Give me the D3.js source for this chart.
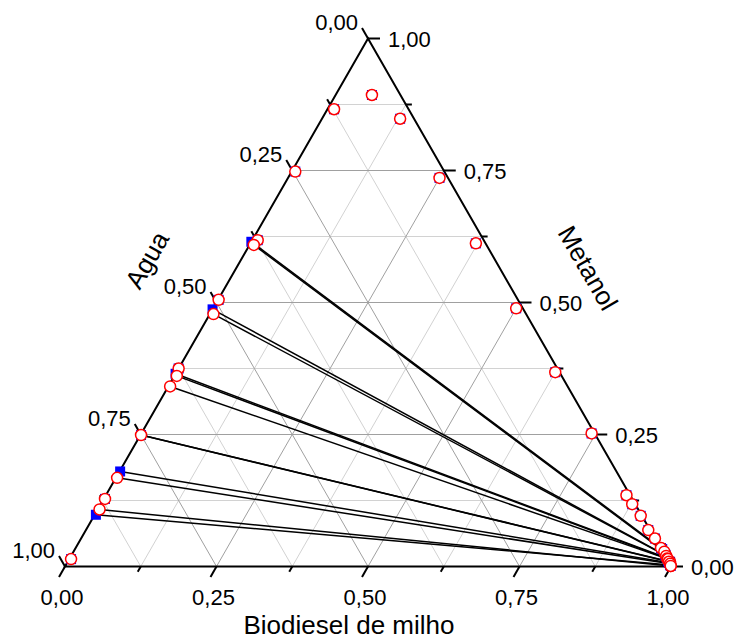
<!DOCTYPE html>
<html>
<head>
<meta charset="utf-8">
<title>Biodiesel de milho + Metanol + Agua</title>
<script src="https://d3js.org/d3.v7.min.js"></script>
<style>
    body { margin: 0; background: #fff; }
    text { font-family: "Liberation Sans", Arial, sans-serif; fill: #000; }
    .tick-label { font-size: 22px; }
    .axis-title { font-size: 26px; }
    .edge { stroke: #000; stroke-width: 2; fill: none; }
    .tick { stroke: #000; stroke-width: 2; }
    .grid-major { stroke: #a0a0a0; stroke-width: 1; }
    .grid-minor { stroke: #d2d2d2; stroke-width: 1; }
    .tie { stroke: #000; stroke-width: 1.5; }
    .sq { fill: #0000ff; }
    .circ { fill: #fff; stroke: #ff0000; stroke-width: 1.5; }
</style>
</head>
<body>
<div id="chart"></div>
<script>
    // ticks
    const majorTicks = [0, 0.25, 0.5, 0.75, 1];
    const tickLabels = ["0,00", "0,25", "0,50", "0,75", "1,00"];
    const minorTicks = [0.125, 0.375, 0.625, 0.875];

    // binodal curve (fração mássica): biodiesel, metanol
    const binodalBio = [0.003, 0.002, 0.000, 0.001, 0.009, 0.006, 0.011, 0.060, 0.129, 0.250, 0.372,
                        0.500, 0.625, 0.743, 0.859, 0.877, 0.902, 0.928, 0.947, 0.966, 0.980, 0.994, 0.999];
    const binodalMet = [0.014, 0.128, 0.375, 0.505, 0.618, 0.748, 0.866, 0.893, 0.848, 0.736, 0.612,
                        0.489, 0.368, 0.252, 0.135, 0.118, 0.096, 0.069, 0.053, 0.035, 0.022, 0.009, 0.001];

    // tie lines experimentais (quadrados azuis): fase aquosa / fase biodiesel
    const expAqBio  = [0.000, 0.000, 0.000, 0.001, 0.001, 0.002];
    const expAqMet  = [0.615, 0.487, 0.365, 0.249, 0.180, 0.098];
    const expOrgBio = [0.969, 0.979, 0.985, 0.990, 0.993, 0.997];
    const expOrgMet = [0.033, 0.022, 0.016, 0.010, 0.007, 0.003];

    // tie lines calculadas (círculos vermelhos)
    const calAqBio  = [0.007, 0.006, 0.004, 0.003, 0.001, 0.002, 0.003];
    const calAqMet  = [0.609, 0.478, 0.361, 0.341, 0.249, 0.168, 0.108];
    const calOrgBio = [0.975, 0.982, 0.986, 0.988, 0.992, 0.996, 0.999];
    const calOrgMet = [0.028, 0.020, 0.015, 0.014, 0.009, 0.005, 0.001];

    const W = 740, H = 644;
    const svg = d3.select("#chart").append("svg")
        .attr("width", W)
        .attr("height", H);

    // escalas: x = biodiesel + metanol/2, y = metanol
    const x = d3.scaleLinear().domain([0, 1]).range([65, 671]);
    const y = d3.scaleLinear().domain([0, 1]).range([566.5, 38.5]);
    const pt = (b, m) => [x(b + m / 2), y(m)];

    // grade
    const gridVals = majorTicks.slice(1, 4).concat(minorTicks);
    const grid = svg.append("g");
    gridVals.forEach(v => {
        const cls = (v * 4) % 1 === 0 ? "grid-major" : "grid-minor";
        const segs = [
            [pt(0, v), pt(1 - v, v)],          // metanol constante
            [pt(v, 0), pt(v, 1 - v)],          // biodiesel constante
            [pt(1 - v, 0), pt(0, 1 - v)]       // agua constante
        ];
        segs.forEach(s => {
            grid.append("line")
                .attr("class", cls)
                .attr("x1", s[0][0]).attr("y1", s[0][1])
                .attr("x2", s[1][0]).attr("y2", s[1][1]);
        });
    });
    // linhas maiores por cima das menores
    grid.selectAll(".grid-major").raise();

    // tie lines
    const ties = svg.append("g");
    expAqBio.forEach((b, i) => {
        const a = pt(b, expAqMet[i]), o = pt(expOrgBio[i], expOrgMet[i]);
        ties.append("line").attr("class", "tie")
            .attr("x1", a[0]).attr("y1", a[1]).attr("x2", o[0]).attr("y2", o[1]);
    });
    calAqBio.forEach((b, i) => {
        const a = pt(b, calAqMet[i]), o = pt(calOrgBio[i], calOrgMet[i]);
        ties.append("line").attr("class", "tie")
            .attr("x1", a[0]).attr("y1", a[1]).attr("x2", o[0]).attr("y2", o[1]);
    });

    // triângulo
    svg.append("path")
        .attr("class", "edge")
        .attr("d", d3.line()([pt(0, 0), pt(1, 0), pt(0, 1), pt(0, 0)]) + "Z");

    // ticks e rótulos
    const axes = svg.append("g");
    const c60 = 0.5, s60 = Math.sqrt(3) / 2;
    function tickAt(p, dx, dy, len) {
        axes.append("line").attr("class", "tick")
            .attr("x1", p[0]).attr("y1", p[1])
            .attr("x2", p[0] + dx * len).attr("y2", p[1] + dy * len);
    }
    majorTicks.forEach((v, i) => {
        // Biodiesel (base)
        const pb = pt(v, 0);
        tickAt(pb, -c60, s60, 12);
        axes.append("text").attr("class", "tick-label")
            .attr("x", pb[0] - 3).attr("y", 605)
            .attr("text-anchor", "middle").text(tickLabels[i]);
        // Metanol (lado direito)
        const pm = pt(1 - v, v);
        tickAt(pm, 1, 0, 12);
        axes.append("text").attr("class", "tick-label")
            .attr("x", pm[0] + 20).attr("y", pm[1] + 8)
            .text(tickLabels[i]);
        // Agua (lado esquerdo)
        const pa = pt(0, 1 - v);
        tickAt(pa, -c60, -s60, 12);
        axes.append("text").attr("class", "tick-label")
            .attr("x", pa[0] - 10).attr("y", pa[1] - 9)
            .attr("text-anchor", "end").text(tickLabels[i]);
    });
    minorTicks.forEach(v => {
        tickAt(pt(v, 0), -c60, s60, 6);
        tickAt(pt(1 - v, v), 1, 0, 6);
        tickAt(pt(0, 1 - v), -c60, -s60, 6);
    });

    // títulos
    svg.append("text").attr("class", "axis-title")
        .attr("x", 349).attr("y", 634)
        .attr("text-anchor", "middle").text("Biodiesel de milho");
    svg.append("text").attr("class", "axis-title")
        .attr("transform", "translate(147,260) rotate(-60)")
        .attr("text-anchor", "middle").attr("dy", "0.35em").text("Agua");
    svg.append("text").attr("class", "axis-title")
        .attr("transform", "translate(588,268) rotate(60)")
        .attr("text-anchor", "middle").attr("dy", "0.35em").text("Metanol");

    // pontos: quadrados (experimental) e círculos (calculado)
    const sqPts = binodalBio.map((b, i) => pt(b, binodalMet[i]))
        .concat(expAqBio.map((b, i) => pt(b, expAqMet[i])))
        .concat(expOrgBio.map((b, i) => pt(b, expOrgMet[i])));
    const cPts = binodalBio.map((b, i) => pt(b, binodalMet[i]))
        .concat(calAqBio.map((b, i) => pt(b, calAqMet[i])))
        .concat(calOrgBio.map((b, i) => pt(b, calOrgMet[i])));

    svg.append("g").selectAll("rect")
        .data(sqPts)
        .enter().append("rect")
        .attr("class", "sq")
        .attr("x", d => d[0] - 5).attr("y", d => d[1] - 5)
        .attr("width", 10).attr("height", 10);

    svg.append("g").selectAll("circle")
        .data(cPts)
        .enter().append("circle")
        .attr("class", "circ")
        .attr("cx", d => d[0]).attr("cy", d => d[1])
        .attr("r", 5.5);
</script>
</body>
</html>
